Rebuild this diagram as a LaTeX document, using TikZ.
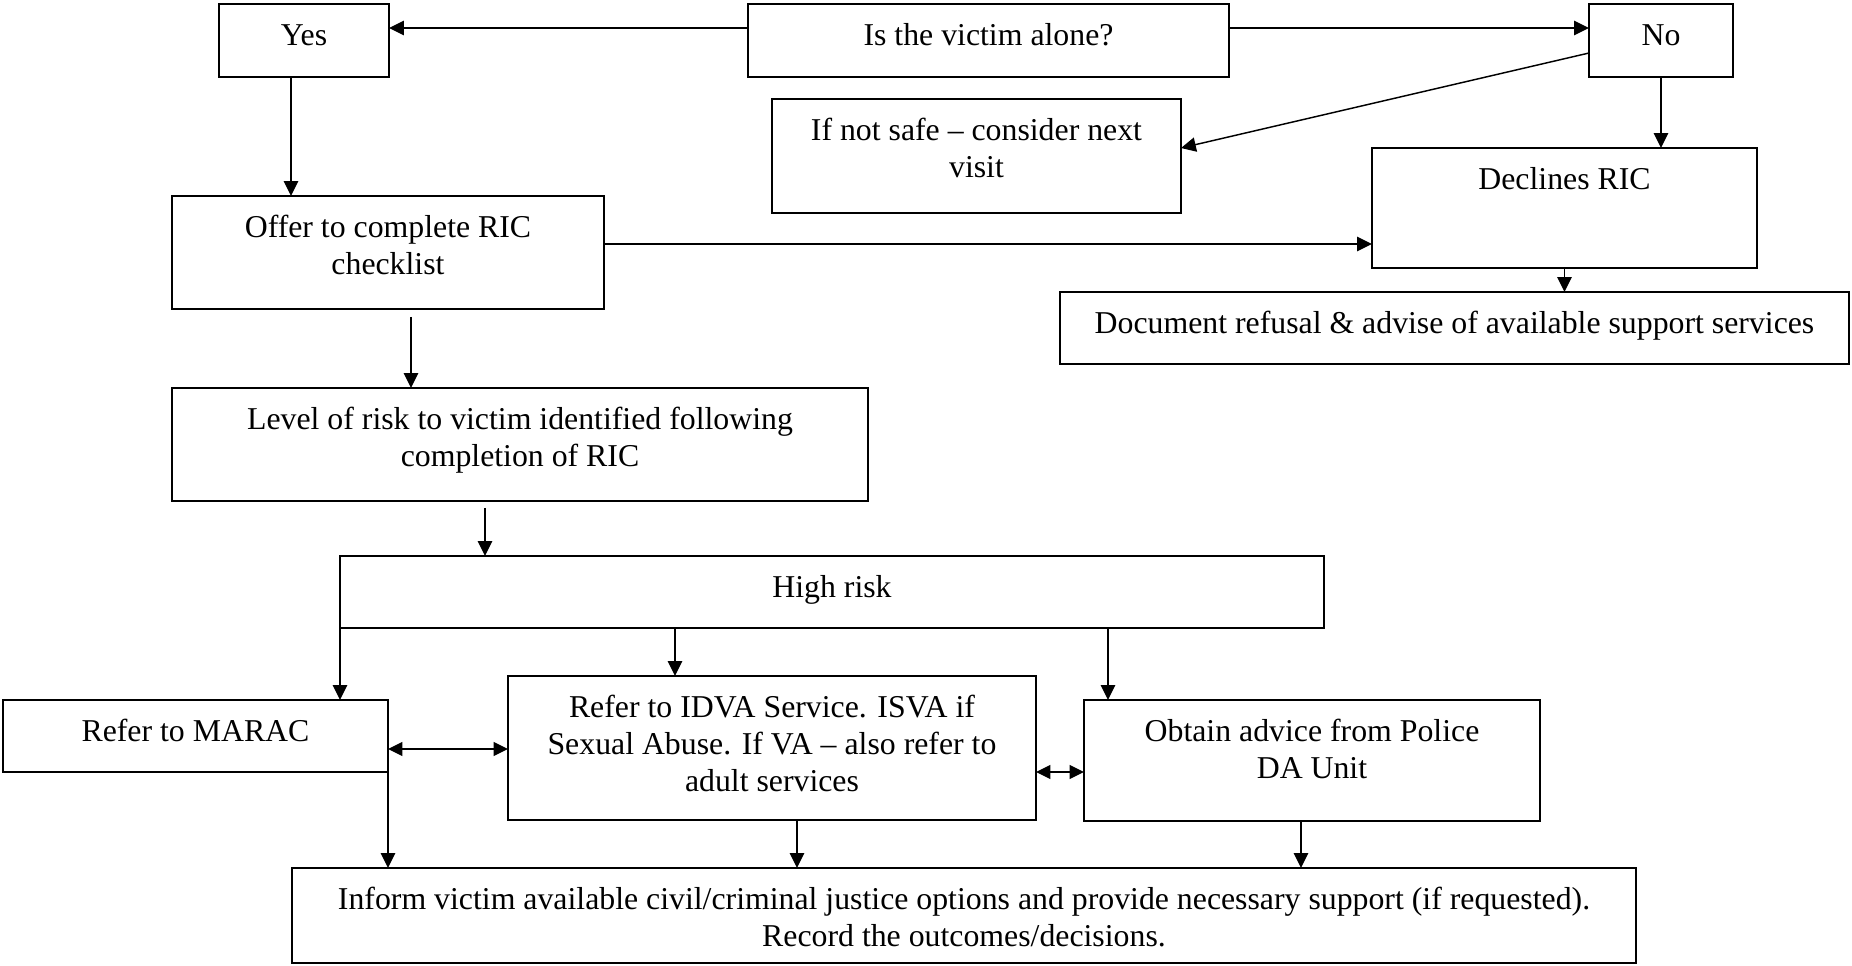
\documentclass[tikz,border=0pt]{standalone}
\usepackage{fontspec}
\setmainfont{Liberation Serif}
\usetikzlibrary{arrows.meta}
\newlength\pxu
\setlength\pxu{0.3774pt}
\newcommand\bt[3]{\begin{minipage}[c][#2\pxu][t]{#1\pxu}\centering\vspace*{5.67pt}\rule{0pt}{9.8pt}#3\end{minipage}}
\tikzset{
  bx/.style={draw, rectangle, line width=0.8pt, inner sep=0pt, outer sep=0pt},
  arr/.style={line width=0.55pt, -{Triangle[length=5.6pt,width=5.4pt]}},
  darr/.style={line width=0.55pt, {Triangle[length=5.4pt,width=5.2pt]}-{Triangle[length=5.4pt,width=5.2pt]}}
}
\begin{document}
\begin{tikzpicture}[x=0.3774pt, y=-0.3774pt, font=\fontsize{12}{14}\selectfont]
\useasboundingbox (0,0) rectangle (1852,965);
% boxes
\node[bx] (yes) at (304,40.5) {\bt{170}{73}{Yes}};
\node[bx] (alone) at (988.5,40.5) {\bt{481}{73}{Is the victim alone?}};
\node[bx] (no) at (1661,40.5) {\bt{144}{73}{No}};
\node[bx] (notsafe) at (976.5,156) {\bt{409}{114}{If not safe – consider next\\visit}};
\node[bx] (declines) at (1564.5,208) {\bt{385}{120}{Declines RIC}};
\node[bx] (offer) at (388,252.5) {\bt{432}{113}{Offer to complete RIC\\checklist}};
\node[bx] (doc) at (1454.5,328) {\bt{789}{72}{Document refusal \& advise of available support services}};
\node[bx] (level) at (520,444.5) {\bt{696}{113}{Level of risk to victim identified following\\completion of RIC}};
\node[bx] (high) at (832,592) {\bt{984}{72}{High risk}};
\node[bx] (marac) at (195.5,736) {\bt{385}{72}{Refer to MARAC}};
\node[bx] (idva) at (772,748) {\bt{528}{144}{Refer to IDVA Service. ISVA if\\Sexual Abuse. If VA – also refer to\\adult services}};
\node[bx] (obtain) at (1312,760.5) {\bt{456}{121}{Obtain advice from Police\\DA Unit}};
\node[bx] (inform) at (964,915.5) {\bt{1344}{95}{Inform victim available civil/criminal justice options and provide necessary support (if requested).\\Record the outcomes/decisions.}};
% connectors
\draw[arr] (alone.west |- 0,28) -- (yes.east |- 0,28);
\draw[arr] (alone.east |- 0,28) -- (no.west |- 0,28);
\draw[arr] (yes.south -| 291,0) -- (offer.north -| 291,0);
\draw[arr] (no.west |- 0,53) -- (notsafe.east |- 0,148);
\draw[arr] (no.south) -- (no.south |- declines.north);
\draw[arr] (offer.east |- 0,244) -- (declines.west |- 0,244);
\draw[arr] (declines.south) -- (declines.south |- doc.north);
\draw[arr, shorten <=3pt] (offer.south -| 411,0) -- (level.north -| 411,0);
\draw[arr, shorten <=2.6pt] (level.south -| 485,0) -- (high.north -| 485,0);
\draw[arr] (high.south west) -- (high.south west |- marac.north);
\draw[arr] (high.south -| 675,0) -- (idva.north -| 675,0);
\draw[arr] (high.south -| 1108,0) -- (obtain.north -| 1108,0);
\draw[darr] (marac.east |- 0,749) -- (idva.west |- 0,749);
\draw[darr] (idva.east |- 0,772) -- (obtain.west |- 0,772);
\draw[arr] (marac.south east) -- (marac.south east |- inform.north);
\draw[arr] (idva.south -| 797,0) -- (inform.north -| 797,0);
\draw[arr] (obtain.south -| 1301,0) -- (inform.north -| 1301,0);
\end{tikzpicture}
\end{document}
